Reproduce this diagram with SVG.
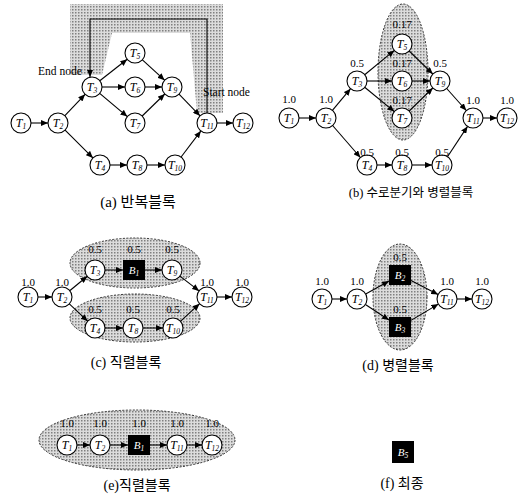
<svg xmlns="http://www.w3.org/2000/svg" width="530" height="497" viewBox="0 0 530 497">
  <style>
    .node { fill: #fff; stroke: #000; stroke-width: 1.1; }
    .box { fill: #000; }
    .edge { fill: none; stroke: #000; stroke-width: 1.1; marker-end: url(#arrow); }
    .tl { font-family: "Liberation Serif", serif; font-style: italic; font-size: 12px; fill: #000; text-anchor: middle; }
    .bl { font-family: "Liberation Serif", serif; font-style: italic; font-size: 11px; fill: #fff; text-anchor: middle; }
    .sub { font-size: 7.5px; }
    .num { font-family: "Liberation Serif", serif; font-size: 11px; fill: #000; text-anchor: middle; }
    .note { font-family: "Liberation Serif", serif; font-size: 11.5px; fill: #000; }
    .cap { font-family: "Liberation Serif", "Noto Sans CJK KR", sans-serif; font-size: 14px; fill: #000; text-anchor: middle; }
    .zone { fill: url(#stipple); stroke: #333; stroke-width: 1; stroke-dasharray: 2 1.5; }
  </style>
  <defs>
    <pattern id="stipple" width="3" height="3" patternUnits="userSpaceOnUse">
      <rect width="3" height="3" fill="#dcdcdc"/>
      <rect width="1.5" height="1.5" fill="#808080"/>
    </pattern>
    <marker id="arrow" viewBox="0 0 7 6" refX="7" refY="3" markerWidth="7" markerHeight="6" markerUnits="userSpaceOnUse" orient="auto">
      <path d="M0,0 L7,3 L0,6 z" fill="#000"/>
    </marker>
  </defs>

  <!-- (a) loop block -->
  <g id="panel-a">
    <path id="loop-zone" d="M70,4 H223 V113 H197 L190,33 H112 L102,75 H70 Z" fill="url(#stipple)"/>
    <g id="a-edges">
      <line class="edge" x1="31" y1="123" x2="48" y2="123"/>
      <line class="edge" x1="64.9" y1="115.7" x2="85.1" y2="94.3"/>
      <line class="edge" x1="65.1" y1="130.1" x2="92.9" y2="157.9"/>
      <line class="edge" x1="99.8" y1="80.8" x2="127.2" y2="59.2"/>
      <line class="edge" x1="102" y1="87" x2="125" y2="87"/>
      <line class="edge" x1="99.7" y1="93.4" x2="127.3" y2="116.6"/>
      <line class="edge" x1="142.4" y1="59.8" x2="164.6" y2="80.2"/>
      <line class="edge" x1="145" y1="87" x2="162" y2="87"/>
      <line class="edge" x1="142.2" y1="116" x2="164.8" y2="94"/>
      <line class="edge" x1="179" y1="94.2" x2="200" y2="115.8"/>
      <line class="edge" x1="110" y1="165" x2="127" y2="165"/>
      <line class="edge" x1="147" y1="165" x2="165" y2="165"/>
      <line class="edge" x1="181.1" y1="157" x2="200.9" y2="130.9"/>
      <line class="edge" x1="217" y1="123" x2="233" y2="123"/>
      <path class="edge" d="M207,113 V19 H90 V77"/>
    </g>
    <g id="a-T1"><circle class="node" cx="21" cy="123" r="10"/><text class="tl" x="21" y="127">T<tspan class="sub" dy="2">1</tspan></text></g>
    <g id="a-T2"><circle class="node" cx="58" cy="123" r="10"/><text class="tl" x="58" y="127">T<tspan class="sub" dy="2">2</tspan></text></g>
    <g id="a-T3"><circle class="node" cx="92" cy="87" r="10"/><text class="tl" x="92" y="91">T<tspan class="sub" dy="2">3</tspan></text></g>
    <g id="a-T5"><circle class="node" cx="135" cy="53" r="10"/><text class="tl" x="135" y="57">T<tspan class="sub" dy="2">5</tspan></text></g>
    <g id="a-T6"><circle class="node" cx="135" cy="87" r="10"/><text class="tl" x="135" y="91">T<tspan class="sub" dy="2">6</tspan></text></g>
    <g id="a-T7"><circle class="node" cx="135" cy="123" r="10"/><text class="tl" x="135" y="127">T<tspan class="sub" dy="2">7</tspan></text></g>
    <g id="a-T9"><circle class="node" cx="172" cy="87" r="10"/><text class="tl" x="172" y="91">T<tspan class="sub" dy="2">9</tspan></text></g>
    <g id="a-T11"><circle class="node" cx="207" cy="123" r="10"/><text class="tl" x="207" y="127">T<tspan class="sub" dy="2">11</tspan></text></g>
    <g id="a-T12"><circle class="node" cx="243" cy="123" r="10"/><text class="tl" x="243" y="127">T<tspan class="sub" dy="2">12</tspan></text></g>
    <g id="a-T4"><circle class="node" cx="100" cy="165" r="10"/><text class="tl" x="100" y="169">T<tspan class="sub" dy="2">4</tspan></text></g>
    <g id="a-T8"><circle class="node" cx="137" cy="165" r="10"/><text class="tl" x="137" y="169">T<tspan class="sub" dy="2">8</tspan></text></g>
    <g id="a-T10"><circle class="node" cx="175" cy="165" r="10"/><text class="tl" x="175" y="169">T<tspan class="sub" dy="2">10</tspan></text></g>
    <text class="note" x="38" y="75">End node</text>
    <text class="note" x="203" y="96">Start node</text>
    <text class="cap" x="138" y="207" style="font-size:15px">(a) 반복블록</text>
  </g>

  <!-- (b) branch and parallel block -->
  <g id="panel-b">
    <ellipse class="zone" cx="403" cy="72" rx="25" ry="68"/>
    <g id="b-edges">
      <line class="edge" x1="299" y1="118" x2="316" y2="118"/>
      <line class="edge" x1="332.4" y1="110.3" x2="350.6" y2="88.7"/>
      <line class="edge" x1="332.6" y1="125.5" x2="360.4" y2="157.5"/>
      <line class="edge" x1="364.7" y1="74.7" x2="394.3" y2="50.4"/>
      <line class="edge" x1="367" y1="81" x2="392" y2="81"/>
      <line class="edge" x1="364.7" y1="87.3" x2="394.3" y2="111.6"/>
      <line class="edge" x1="409.2" y1="51" x2="432.8" y2="74"/>
      <line class="edge" x1="412" y1="81" x2="430" y2="81"/>
      <line class="edge" x1="409.2" y1="111" x2="432.8" y2="88"/>
      <line class="edge" x1="446.7" y1="88.5" x2="466.3" y2="110.5"/>
      <line class="edge" x1="377" y1="165" x2="392" y2="165"/>
      <line class="edge" x1="412" y1="165" x2="432" y2="165"/>
      <line class="edge" x1="447.5" y1="156.7" x2="467.5" y2="126.4"/>
      <line class="edge" x1="483" y1="118" x2="497" y2="118"/>
    </g>
    <g id="b-T1"><circle class="node" cx="289" cy="118" r="10"/><text class="tl" x="289" y="122">T<tspan class="sub" dy="2">1</tspan></text><text class="num" x="289" y="103">1.0</text></g>
    <g id="b-T2"><circle class="node" cx="326" cy="118" r="10"/><text class="tl" x="326" y="122">T<tspan class="sub" dy="2">2</tspan></text><text class="num" x="326" y="103">1.0</text></g>
    <g id="b-T3"><circle class="node" cx="357" cy="81" r="10"/><text class="tl" x="357" y="85">T<tspan class="sub" dy="2">3</tspan></text><text class="num" x="357" y="67">0.5</text></g>
    <g id="b-T5"><circle class="node" cx="402" cy="44" r="10"/><text class="tl" x="402" y="48">T<tspan class="sub" dy="2">5</tspan></text><text class="num" x="402" y="28">0.17</text></g>
    <g id="b-T6"><circle class="node" cx="402" cy="81" r="10"/><text class="tl" x="402" y="85">T<tspan class="sub" dy="2">6</tspan></text><text class="num" x="402" y="67">0.17</text></g>
    <g id="b-T7"><circle class="node" cx="402" cy="118" r="10"/><text class="tl" x="402" y="122">T<tspan class="sub" dy="2">7</tspan></text><text class="num" x="402" y="104">0.17</text></g>
    <g id="b-T9"><circle class="node" cx="440" cy="81" r="10"/><text class="tl" x="440" y="85">T<tspan class="sub" dy="2">9</tspan></text><text class="num" x="440" y="67">0.5</text></g>
    <g id="b-T11"><circle class="node" cx="473" cy="118" r="10"/><text class="tl" x="473" y="122">T<tspan class="sub" dy="2">11</tspan></text><text class="num" x="473" y="104">1.0</text></g>
    <g id="b-T12"><circle class="node" cx="507" cy="118" r="10"/><text class="tl" x="507" y="122">T<tspan class="sub" dy="2">12</tspan></text><text class="num" x="507" y="104">1.0</text></g>
    <g id="b-T4"><circle class="node" cx="367" cy="165" r="10"/><text class="tl" x="367" y="169">T<tspan class="sub" dy="2">4</tspan></text><text class="num" x="367" y="156">0.5</text></g>
    <g id="b-T8"><circle class="node" cx="402" cy="165" r="10"/><text class="tl" x="402" y="169">T<tspan class="sub" dy="2">8</tspan></text><text class="num" x="402" y="156">0.5</text></g>
    <g id="b-T10"><circle class="node" cx="442" cy="165" r="10"/><text class="tl" x="442" y="169">T<tspan class="sub" dy="2">10</tspan></text><text class="num" x="442" y="156">0.5</text></g>
    <text class="cap" x="411" y="197" style="font-size:12.5px">(b) 수로분기와 병렬블록</text>
  </g>

  <!-- (c) serial blocks -->
  <g id="panel-c">
    <ellipse class="zone" cx="135" cy="263" rx="65" ry="25"/>
    <ellipse class="zone" cx="135" cy="318" rx="65" ry="24"/>
    <g id="c-edges">
      <line class="edge" x1="38" y1="297" x2="52" y2="297"/>
      <line class="edge" x1="69.7" y1="290.7" x2="87.3" y2="276.3"/>
      <line class="edge" x1="69.3" y1="303.8" x2="87.7" y2="321.2"/>
      <line class="edge" x1="105" y1="270" x2="123" y2="270"/>
      <line class="edge" x1="145" y1="270" x2="162" y2="270"/>
      <line class="edge" x1="179.9" y1="276.1" x2="199.1" y2="290.9"/>
      <line class="edge" x1="105" y1="328" x2="123" y2="328"/>
      <line class="edge" x1="143" y1="328" x2="163" y2="328"/>
      <line class="edge" x1="180.4" y1="321.3" x2="199.6" y2="303.7"/>
      <line class="edge" x1="217" y1="297" x2="232" y2="297"/>
    </g>
    <g id="c-T1"><circle class="node" cx="28" cy="297" r="10"/><text class="tl" x="28" y="301">T<tspan class="sub" dy="2">1</tspan></text><text class="num" x="28" y="286">1.0</text></g>
    <g id="c-T2"><circle class="node" cx="62" cy="297" r="10"/><text class="tl" x="62" y="301">T<tspan class="sub" dy="2">2</tspan></text><text class="num" x="62" y="286">1.0</text></g>
    <g id="c-T3"><circle class="node" cx="95" cy="270" r="10"/><text class="tl" x="95" y="274">T<tspan class="sub" dy="2">3</tspan></text><text class="num" x="95" y="253">0.5</text></g>
    <g id="c-B1"><rect class="box" x="123" y="260" width="22" height="20"/><text class="bl" x="134" y="274">B<tspan class="sub" dy="2">1</tspan></text><text class="num" x="134" y="253">0.5</text></g>
    <g id="c-T9"><circle class="node" cx="172" cy="270" r="10"/><text class="tl" x="172" y="274">T<tspan class="sub" dy="2">9</tspan></text><text class="num" x="172" y="253">0.5</text></g>
    <g id="c-T11"><circle class="node" cx="207" cy="297" r="10"/><text class="tl" x="207" y="301">T<tspan class="sub" dy="2">11</tspan></text><text class="num" x="207" y="286">1.0</text></g>
    <g id="c-T12"><circle class="node" cx="242" cy="297" r="10"/><text class="tl" x="242" y="301">T<tspan class="sub" dy="2">12</tspan></text><text class="num" x="242" y="286">1.0</text></g>
    <g id="c-T4"><circle class="node" cx="95" cy="328" r="10"/><text class="tl" x="95" y="332">T<tspan class="sub" dy="2">4</tspan></text><text class="num" x="95" y="313">0.5</text></g>
    <g id="c-T8"><circle class="node" cx="133" cy="328" r="10"/><text class="tl" x="133" y="332">T<tspan class="sub" dy="2">8</tspan></text><text class="num" x="133" y="313">0.5</text></g>
    <g id="c-T10"><circle class="node" cx="173" cy="328" r="10"/><text class="tl" x="173" y="332">T<tspan class="sub" dy="2">10</tspan></text><text class="num" x="173" y="313">0.5</text></g>
    <text class="cap" x="126" y="367">(c) 직렬블록</text>
  </g>

  <!-- (d) parallel block -->
  <g id="panel-d">
    <ellipse class="zone" cx="400" cy="297" rx="27" ry="53"/>
    <g id="d-edges">
      <line class="edge" x1="332" y1="299" x2="347" y2="299"/>
      <line class="edge" x1="365.7" y1="294.1" x2="389" y2="281"/>
      <line class="edge" x1="365.4" y1="304.5" x2="389" y2="320"/>
      <line class="edge" x1="411" y1="280.6" x2="438.1" y2="294.5"/>
      <line class="edge" x1="411" y1="320.4" x2="438.4" y2="304.1"/>
      <line class="edge" x1="457" y1="299" x2="472" y2="299"/>
    </g>
    <g id="d-T1"><circle class="node" cx="322" cy="299" r="10"/><text class="tl" x="322" y="303">T<tspan class="sub" dy="2">1</tspan></text><text class="num" x="322" y="285">1.0</text></g>
    <g id="d-T2"><circle class="node" cx="357" cy="299" r="10"/><text class="tl" x="357" y="303">T<tspan class="sub" dy="2">2</tspan></text><text class="num" x="357" y="285">1.0</text></g>
    <g id="d-B2"><rect class="box" x="389" y="265" width="22" height="20"/><text class="bl" x="400" y="279">B<tspan class="sub" dy="2">2</tspan></text><text class="num" x="400" y="261">0.5</text></g>
    <g id="d-B3"><rect class="box" x="389" y="317" width="22" height="20"/><text class="bl" x="400" y="331">B<tspan class="sub" dy="2">3</tspan></text><text class="num" x="400" y="313">0.5</text></g>
    <g id="d-T11"><circle class="node" cx="447" cy="299" r="10"/><text class="tl" x="447" y="303">T<tspan class="sub" dy="2">11</tspan></text><text class="num" x="447" y="285">1.0</text></g>
    <g id="d-T12"><circle class="node" cx="482" cy="299" r="10"/><text class="tl" x="482" y="303">T<tspan class="sub" dy="2">12</tspan></text><text class="num" x="482" y="285">1.0</text></g>
    <text class="cap" x="398" y="370">(d) 병렬블록</text>
  </g>

  <!-- (e) serial block -->
  <g id="panel-e">
    <ellipse class="zone" cx="137" cy="440" rx="98" ry="30"/>
    <g id="e-edges">
      <line class="edge" x1="77" y1="445" x2="90" y2="445"/>
      <line class="edge" x1="110" y1="445" x2="128" y2="445"/>
      <line class="edge" x1="150" y1="445" x2="167" y2="445"/>
      <line class="edge" x1="187" y1="445" x2="202" y2="445"/>
    </g>
    <g id="e-T1"><circle class="node" cx="67" cy="445" r="10"/><text class="tl" x="67" y="449">T<tspan class="sub" dy="2">1</tspan></text><text class="num" x="67" y="427">1.0</text></g>
    <g id="e-T2"><circle class="node" cx="100" cy="445" r="10"/><text class="tl" x="100" y="449">T<tspan class="sub" dy="2">2</tspan></text><text class="num" x="100" y="427">1.0</text></g>
    <g id="e-B1"><rect class="box" x="128" y="435" width="22" height="20"/><text class="bl" x="139" y="449">B<tspan class="sub" dy="2">1</tspan></text><text class="num" x="139" y="427">1.0</text></g>
    <g id="e-T11"><circle class="node" cx="177" cy="445" r="10"/><text class="tl" x="177" y="449">T<tspan class="sub" dy="2">11</tspan></text><text class="num" x="177" y="427">1.0</text></g>
    <g id="e-T12"><circle class="node" cx="212" cy="445" r="10"/><text class="tl" x="212" y="449">T<tspan class="sub" dy="2">12</tspan></text><text class="num" x="212" y="427">1.0</text></g>
    <text class="cap" x="137" y="490">(e)직렬블록</text>
  </g>

  <!-- (f) final block -->
  <g id="panel-f">
    <g id="f-B5"><rect class="box" x="392" y="441" width="22" height="22"/><text class="bl" x="403" y="456">B<tspan class="sub" dy="2">5</tspan></text></g>
    <text class="cap" x="402" y="488">(f) 최종</text>
  </g>
</svg>
